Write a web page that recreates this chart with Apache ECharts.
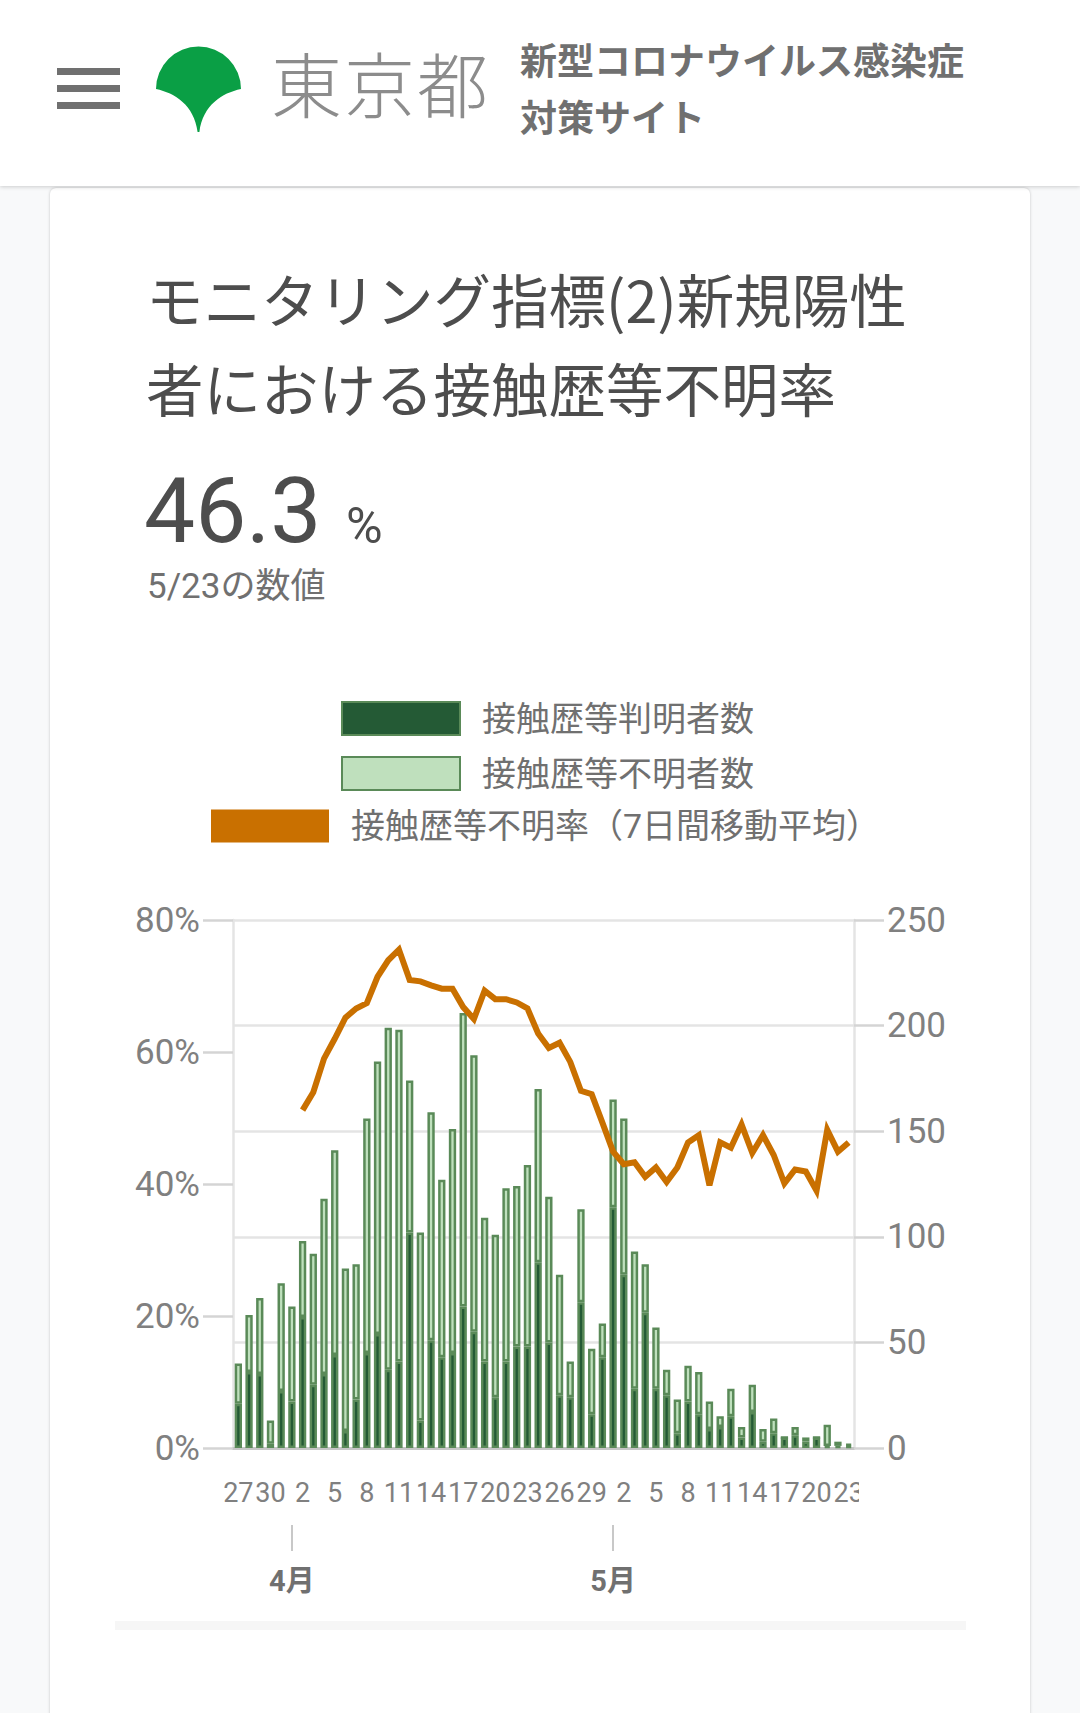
<!DOCTYPE html>
<html lang="ja">
<head>
<meta charset="utf-8">
<script src="https://cdn.jsdelivr.net/npm/echarts@6/dist/echarts.min.js"></script>
<style>
html,body{margin:0;padding:0;width:1080px;height:1713px;overflow:hidden;background:#f8f9fa;font-family:Roboto,'Noto Sans CJK JP',sans-serif;}
#header{position:absolute;left:0;top:0;width:1080px;height:186px;background:#fff;box-shadow:0 1px 4px rgba(0,0,0,0.18);z-index:2}
.hb{position:absolute;left:57px;width:63px;height:7px;background:#707070}
#logo{position:absolute;left:150px;top:44px}
#tokyo{position:absolute;left:271px;top:46px;font-size:71px;line-height:71px;font-weight:300;color:#8c8c8c;font-family:'Noto Sans CJK JP',sans-serif;letter-spacing:2px}
#site{position:absolute;left:520px;top:31px;font-size:37px;line-height:57px;font-weight:bold;color:#707070;font-family:'Noto Sans CJK JP',sans-serif}
#card{position:absolute;left:50px;top:188px;width:980px;height:1600px;background:#fff;border-radius:6px;box-shadow:0 0 3px rgba(0,0,0,0.22);z-index:1}
#title{position:absolute;left:146px;top:254px;font-size:57.5px;line-height:89px;color:#4d4d4d;font-family:'Noto Sans CJK JP',sans-serif;z-index:2;white-space:nowrap}
#big{position:absolute;left:144px;top:466px;font-size:91px;line-height:91px;color:#4d4d4d;font-family:Roboto,sans-serif;z-index:2}
#pct{position:absolute;left:346px;top:501px;font-size:50px;line-height:50px;color:#4d4d4d;font-family:Roboto,sans-serif;z-index:2}
#date{position:absolute;left:147px;top:569px;font-size:35px;line-height:35px;color:#707070;font-family:Roboto,'Noto Sans CJK JP',sans-serif;z-index:2}
#band{position:absolute;left:115px;top:1621px;width:851px;height:9px;background:#f6f6f6;z-index:2}
#chart{position:absolute;left:0;top:0;width:1080px;height:1713px;z-index:3}
</style>
</head>
<body>
<div id="header">
  <div class="hb" style="top:68px"></div>
  <div class="hb" style="top:85px"></div>
  <div class="hb" style="top:102px"></div>
  <svg id="logo" width="96" height="92" viewBox="150 44 96 92">
    <path d="M156,89 A42.5,42.5 0 0 1 241,89 C222,93 203,105 199.4,132 L197.6,132 C194,105 175,93 156,89 Z" fill="#0a9f45"/>
  </svg>
  <div id="tokyo">東京都</div>
  <div id="site">新型コロナウイルス感染症<br>対策サイト</div>
</div>
<div id="card"></div>
<div id="title">モニタリング指標(2)新規陽性<br>者における接触歴等不明率</div>
<div id="big">46.3</div>
<div id="pct">%</div>
<div id="date">5/23の数値</div>
<div id="band"></div>
<div id="chart"></div>
<script>
// ---- data ----
const dates = [
  '3/27','3/28','3/29','3/30','3/31',
  '4/1','4/2','4/3','4/4','4/5','4/6','4/7','4/8','4/9','4/10',
  '4/11','4/12','4/13','4/14','4/15','4/16','4/17','4/18','4/19','4/20',
  '4/21','4/22','4/23','4/24','4/25','4/26','4/27','4/28','4/29','4/30',
  '5/1','5/2','5/3','5/4','5/5','5/6','5/7','5/8','5/9','5/10',
  '5/11','5/12','5/13','5/14','5/15','5/16','5/17','5/18','5/19','5/20',
  '5/21','5/22','5/23'
];
// 接触歴等判明者数
const knownCounts = [
  21,36,35,2,27,
  22,62,30,35,44,8,23,45,54,37,
  41,102,13,51,43,45,67,55,41,24,
  41,48,48,88,50,25,24,69,16,43,
  114,82,28,64,28,25,7,22,16,9,
  10,15,5,17,3,7,5,6,3,5,
  1,1,1
];
// 接触歴等不明者数
const unknownCounts = [
  19,27,36,11,51,
  45,36,62,83,97,77,64,111,129,162,
  157,72,89,108,84,106,139,131,68,77,
  82,76,86,82,69,57,17,44,31,16,
  51,74,65,23,29,12,16,17,20,13,
  5,13,5,13,6,7,0,4,2,0,
  10,2,1
];
// 接触歴等不明率（7日間移動平均） %
const unknownRate = [
  null,null,null,null,null,
  null,51.2,53.9,59.0,62.0,65.2,66.6,67.4,71.4,73.9,
  75.5,70.9,70.7,70.1,69.6,69.6,66.8,65.0,69.3,68.0,
  68.0,67.5,66.6,62.8,60.6,61.4,58.5,54.1,53.6,49.3,
  44.9,43.0,43.3,41.1,42.5,40.3,42.5,46.3,47.4,39.8,
  46.3,45.5,49.0,44.7,47.4,44.4,40.1,42.2,41.9,39.0,
  48.2,44.9,46.3
];
const monthLabels = {'4/1':'4月','5/1':'5月'};
const rateAxis = {min:0, max:80, interval:20};
const countAxis = {min:0, max:250, interval:50};
const seriesNames = ['接触歴等判明者数','接触歴等不明者数','接触歴等不明率（7日間移動平均）'];

const FONT = "Roboto, 'Noto Sans CJK JP', sans-serif";
const chart = echarts.init(document.getElementById('chart'), null, {renderer:'svg'});
const legendBase = {
  padding:0, itemWidth:118, itemHeight:33, selectedMode:false,
  textStyle:{color:'#707070', fontSize:34, fontFamily:FONT, padding:[0,0,0,17]}
};
const gridColor = '#e4e4e4';
chart.setOption({
  animation:false,
  textStyle:{fontFamily:FONT},
  grid:{left:233, right:226, top:920, bottom:265, containLabel:false},
  legend:[
    Object.assign({}, legendBase, {left:341, top:701, data:[{name:seriesNames[0], icon:'rect'}]}),
    Object.assign({}, legendBase, {left:341, top:756, data:[{name:seriesNames[1], icon:'rect'}]}),
    Object.assign({}, legendBase, {left:211, top:809, data:[{name:seriesNames[2], icon:'rect', itemStyle:{color:'#c97000', borderWidth:0}}]})
  ],
  xAxis:[
    {
      type:'category', data:dates,
      axisLine:{show:true, onZero:false, lineStyle:{color:'#c6c6c6', width:3}},
      axisTick:{show:false},
      splitLine:{show:false},
      axisLabel:{interval:2, formatter:v=>v.split('/')[1], color:'#808080', fontSize:27, margin:31, fontFamily:FONT}
    },
    {
      type:'category', data:dates, position:'bottom', offset:77,
      axisLine:{show:false, onZero:false},
      axisTick:{show:true, alignWithLabel:true, length:26, interval:(i,v)=>v in monthLabels, lineStyle:{color:'#c8c8c8', width:2}},
      splitLine:{show:false},
      axisLabel:{interval:(i,v)=>v in monthLabels, formatter:v=>monthLabels[v]||'', color:'#707070', fontSize:29, fontWeight:'bold', margin:41, fontFamily:FONT}
    }
  ],
  yAxis:[
    {
      type:'value', position:'left', min:rateAxis.min, max:rateAxis.max, interval:rateAxis.interval,
      axisLine:{show:true, lineStyle:{color:gridColor, width:2.5}},
      axisTick:{show:true, length:30, lineStyle:{color:'#d4d4d4', width:2.5}},
      axisLabel:{formatter:'{value}%', color:'#808080', fontSize:35, margin:33, fontFamily:FONT},
      splitLine:{show:false}
    },
    {
      type:'value', position:'right', min:countAxis.min, max:countAxis.max, interval:countAxis.interval,
      axisLine:{show:true, lineStyle:{color:gridColor, width:2.5}},
      axisTick:{show:true, length:30, lineStyle:{color:'#d4d4d4', width:2.5}},
      axisLabel:{color:'#808080', fontSize:35, margin:33, fontFamily:FONT},
      splitLine:{show:true, lineStyle:{color:gridColor, width:2.5}}
    }
  ],
  series:[
    {
      name:seriesNames[0], type:'bar', stack:'cases', yAxisIndex:1, xAxisIndex:0,
      data:knownCounts, barWidth:7.3,
      itemStyle:{color:'#245a35', borderColor:'#5a8a58', borderWidth:2.5}
    },
    {
      name:seriesNames[1], type:'bar', stack:'cases', yAxisIndex:1, xAxisIndex:0,
      data:unknownCounts, barWidth:7.3,
      itemStyle:{color:'#bfe0bd', borderColor:'#5a8a58', borderWidth:2.5}
    },
    {
      name:seriesNames[2], type:'line', yAxisIndex:0, xAxisIndex:0,
      data:unknownRate, showSymbol:false, symbol:'none', z:5,
      lineStyle:{color:'#c97000', width:6, join:'miter'},
      itemStyle:{color:'#c97000'}
    }
  ],
  graphic:[
    {type:'rect', z:100, shape:{x:859, y:1466, width:26, height:52}, style:{fill:'#ffffff'}}
  ]
});
</script>
</body>
</html>
